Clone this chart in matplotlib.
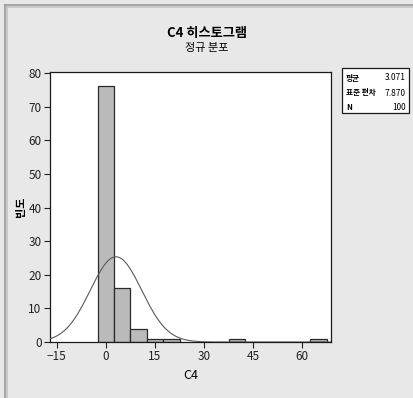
#!/usr/bin/env python3

# Minitab-style histogram of C4 with fitted normal curve.

import numpy as np
import matplotlib
matplotlib.use('Agg')
import matplotlib.pyplot as plt
from matplotlib.patches import Rectangle

# Histogram data.
bin_centers = [0, 5, 10, 15, 20, 40, 65]
counts = [76, 16, 4, 1, 1, 1, 1]
bin_width = 5

# Summary statistics shown in the legend box.
mean = 3.071
stdev = 7.870
n = 100

stat_labels = ['평균', '표준 편차', 'N']
stat_values = ['3.071', '7.870', '100']

x_ticks = [-15, 0, 15, 30, 45, 60]
y_ticks = [0, 10, 20, 30, 40, 50, 60, 70, 80]

num_font = ['Liberation Sans Narrow', 'Noto Sans CJK KR', 'DejaVu Sans']
kr_font = ['Noto Sans CJK KR', 'DejaVu Sans']

W, H = 413, 398
fig = plt.figure(figsize=(W / 100, H / 100), dpi=100)
fig.patch.set_facecolor('#e8e8e8')

# Outer frame lines (left and top), double grey line.
for off, col in [(5.0, '#9a9a9a'), (6.5, '#c4c4c4')]:
    fig.add_artist(plt.Line2D([off / W, off / W], [0, 1 - off / H], color=col, lw=1.2))
    fig.add_artist(plt.Line2D([off / W, 1], [1 - off / H, 1 - off / H], color=col, lw=1.2))

ax = fig.add_axes([50 / W, 1 - 342 / H, 281 / W, 270 / H])
ax.set_facecolor('white')

ax.bar(bin_centers, counts, width=bin_width, color='#bababa',
       edgecolor='#2a2a2a', linewidth=0.9, zorder=2)

xs = np.linspace(-17.1, 68.8, 400)
pdf = n * bin_width / (stdev * np.sqrt(2 * np.pi)) * np.exp(-0.5 * ((xs - mean) / stdev) ** 2)
ax.plot(xs, pdf, color='#5a5a5a', lw=0.8, zorder=3)

ax.set_xlim(-17.1, 68.8)
ax.set_ylim(0, 80.3)
ax.set_xticks(x_ticks)
ax.set_yticks(y_ticks)
ax.tick_params(direction='out', length=4, width=0.8, pad=2, labelsize=8.5,
               colors='#222222')
for lbl in ax.get_xticklabels() + ax.get_yticklabels():
    lbl.set_family(num_font)
for sp in ax.spines.values():
    sp.set_color('#1a1a1a')
    sp.set_linewidth(0.9)

ax.set_xlabel('C4', family=num_font, fontsize=9, labelpad=4)
fig.text(20 / W, 1 - 207 / H, '빈도', family=kr_font, fontsize=8, fontweight='bold',
         rotation=90, ha='center', va='center')

# Titles.
fig.text(207 / W, 1 - 33 / H, 'C4 히스토그램', family=kr_font, fontsize=9.5,
         fontweight='bold', ha='center', va='center')
fig.text(207 / W, 1 - 48 / H, '정규 분포', family=kr_font, fontsize=8,
         ha='center', va='center')

# Legend box with statistics.
fig.add_artist(Rectangle((342 / W, 1 - 113 / H), 67 / W, 45 / H, transform=fig.transFigure,
                         facecolor='white', edgecolor='#1a1a1a', lw=0.9))
row_y = [78, 93, 107]
for lab, val, y in zip(stat_labels, stat_values, row_y):
    fig.text(346 / W, 1 - y / H, lab, family=kr_font, fontsize=5.5, fontweight='bold',
             ha='left', va='center')
    fig.text(406 / W, 1 - y / H, val, family=num_font, fontsize=6,
             ha='right', va='center')

fig.savefig('out.png', dpi=100, facecolor=fig.get_facecolor())
